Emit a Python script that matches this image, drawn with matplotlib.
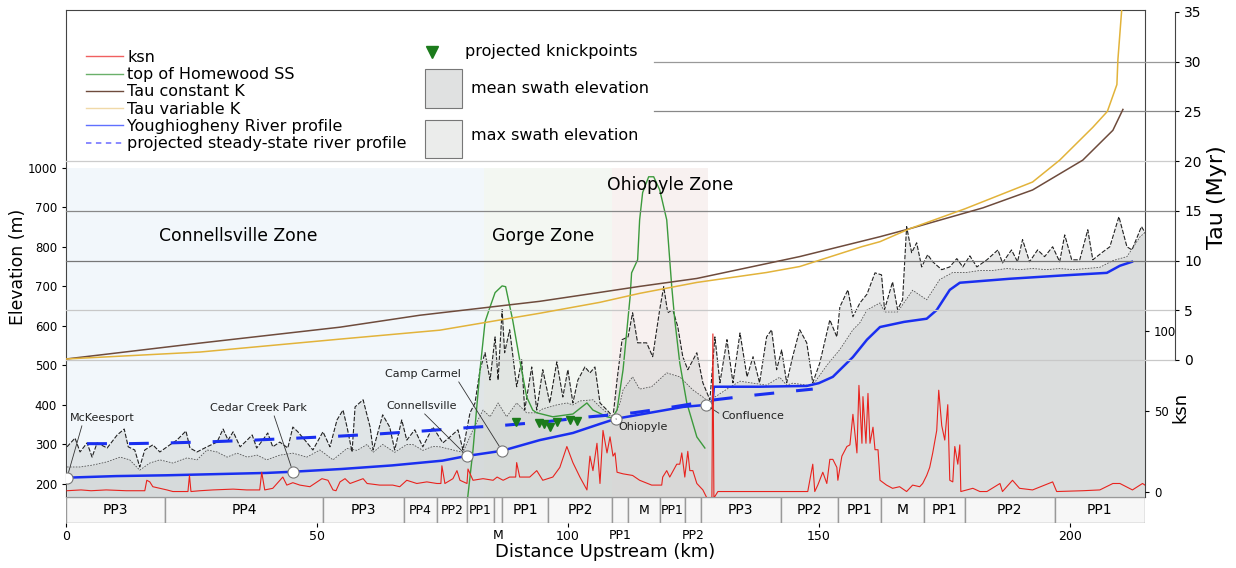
#!/usr/bin/env python3
# -*- coding: utf-8 -*-
# plot.py - perfil del rio Youghiogheny con swath, ksn y tau

import numpy as np
import matplotlib
matplotlib.use('Agg')
from matplotlib import pyplot as plt
from matplotlib.patches import Rectangle
from matplotlib.lines import Line2D

###############################################################################
# datos

# perfil del rio
river_km = [0.2, 10, 20, 30, 40, 45.2, 55, 65, 75, 79.9, 86.9, 94.4, 101.0, 106.4,
            109.6, 116.3, 123.0, 127.5, 128.8, 129.1, 138, 147.6, 150, 152.8, 156.8,
            159.6, 162.2, 167, 171.5, 173.5, 176.1, 178.1, 188, 198, 207.4, 210, 212.4]
river_elev = [216, 220, 222, 225, 228, 231, 238, 247, 259, 271, 284, 311, 329, 352,
              365, 380, 395, 400, 402, 446, 446, 448, 455, 471, 521,
              565, 597, 610, 618, 640, 691, 709, 719, 727, 734, 752, 762]

# perfil proyectado en estado estacionario
proj_km = [4.2, 12.4, 20.9, 29.3, 37.5, 46.0, 54.4, 62.7, 71.1, 79.5, 87.8, 96.0,
           104.4, 108.0, 113.0, 118.0, 123.0, 129.3, 137.3, 145.7, 148.8]
proj_elev = [302, 302, 304, 307, 311, 316, 321, 327, 334, 342, 349, 358,
             370, 374, 380, 389, 399, 413, 425, 436, 440]

# max swath
max_km = [0.2, 1.8, 2.8, 4.2, 5.2, 6.2, 8.2, 10.2, 11.6, 12.4, 13.7, 14.7, 15.7, 17.3,
          18.7, 20.7, 22.1, 23.9, 24.7, 26.1, 28.1, 30.1, 31.3, 32.3, 33.3, 34.7, 36.1,
          37.1, 38.0, 39.2, 40.2, 41.2, 42.6, 44.2, 45.2, 46.2, 47.6, 49.2, 51.2, 52.6,
          54.0, 55.2, 56.0, 57.0, 57.6, 59.2, 60.6, 61.2, 63.1, 64.5, 65.5, 66.9, 67.9,
          69.5, 71.1, 73.1, 75.1, 76.5, 78.1, 79.1, 80.5, 81.5, 82.5, 83.5, 84.5, 85.5,
          86.1, 86.9, 87.4, 88.4, 89.8, 90.8, 91.4, 92.8, 93.8, 95.0, 96.4, 97.8, 99.0,
          100.0, 101.0, 102.0, 103.4, 104.4, 105.4, 106.4, 107.8, 109.0, 109.8, 110.8,
          112.0, 112.9, 113.9, 115.7, 116.9, 118.3, 119.1, 119.9, 120.9, 121.9, 122.9,
          123.9, 125.7, 126.9, 128.3, 129.3, 130.3, 131.7, 132.9, 134.3, 135.7, 136.9,
          138.2, 139.6, 140.6, 141.6, 142.6, 143.6, 144.8, 146.2, 147.6, 148.8, 150.2,
          152.2, 153.6, 154.2, 155.8, 156.8, 158.2, 159.6, 161.2, 162.5, 163.1, 164.7,
          165.7, 166.7, 167.5, 168.5, 169.5, 170.5, 171.7, 172.7, 174.5, 176.1, 177.5,
          178.7, 180.1, 181.5, 183.5, 185.7, 186.6, 188.4, 189.6, 190.6, 192.0, 193.6,
          195.0, 196.6, 198.0, 199.0, 200.4, 202.0, 203.6, 204.6, 206.4, 208.0, 209.8,
          211.4, 212.4, 214.3, 215.0]
max_elev = [294, 316, 281, 304, 268, 304, 291, 324, 339, 294, 286, 243, 286, 299,
            281, 299, 311, 334, 291, 281, 294, 306, 339, 311, 332, 294, 311,
            324, 291, 311, 329, 294, 306, 291, 344, 332, 311, 286, 332, 294,
            362, 387, 344, 281, 395, 413, 344, 286, 375, 344, 286, 362, 311,
            337, 294, 344, 304, 319, 337, 286, 380, 405, 489, 532, 463, 572,
            463, 641, 532, 590, 446, 514, 387, 496, 387, 489, 405, 509, 420,
            489, 405, 463, 496, 481, 496, 405, 387, 370, 463, 565,
            572, 633, 557, 557, 522, 641, 699, 633, 641, 598, 522,
            489, 532, 456, 413, 572, 456, 565, 456, 582, 471, 522,
            456, 572, 590, 489, 539, 456, 522, 590, 557, 456, 506,
            615, 572, 648, 691, 623, 658, 680, 734, 729, 641, 711,
            641, 666, 851, 785, 810, 749, 780, 762, 742, 749, 770,
            749, 777, 749, 767, 792, 759, 792, 762, 818, 762, 792,
            775, 800, 762, 830, 767, 767, 843, 767, 785, 800, 876,
            800, 792, 851, 836]

# mean swath
mean_km = [0.2, 2.8, 5.4, 8.2, 10.8, 12.7, 14.7, 16.7, 18.7, 21.3, 24.1, 26.1, 28.1,
           30.1, 32.1, 34.1, 36.1, 38.1, 40.0, 42.6, 45.2, 48.0, 50.6, 53.2, 56.0,
           58.0, 60.0, 61.2, 63.1, 65.5, 67.9, 69.1, 71.1, 73.1, 74.5, 77.1, 79.1,
           81.1, 83.1, 84.5, 86.1, 87.8, 89.8, 91.8, 93.8, 95.0, 96.4, 97.8, 99.8,
           101.0, 102.4, 105.0, 106.4, 107.8, 109.0, 110.4, 111.0, 112.9, 114.3,
           116.7, 119.7, 122.3, 124.9, 126.9, 128.3, 129.3, 131.7, 134.3, 136.9,
           139.6, 142.2, 143.6, 144.8, 147.6, 148.8, 151.6, 154.2, 156.8, 158.2,
           159.6, 162.2, 163.1, 165.7, 168.7, 171.5, 174.1, 176.7, 179.5, 182.1,
           184.7, 187.5, 190.0, 192.6, 195.4, 198.0, 200.6, 203.4, 206.0, 208.6,
           211.4, 214.0, 215.0]
mean_elev = [243, 243, 248, 256, 268, 261, 235, 253, 261, 253, 266, 261, 286,
             281, 268, 278, 268, 273, 261, 273, 278, 268, 286, 261, 290,
             285, 300, 280, 300, 280, 300, 300, 285, 295, 294, 286, 280,
             337, 387, 370, 405, 370, 405, 380, 380, 390, 395, 400, 405,
             400, 410, 413, 395, 380, 365, 405, 438, 471, 440,
             446, 481, 471, 438, 420, 405, 420, 440, 460, 455,
             450, 470, 450, 455, 450, 450, 500, 540, 590, 608,
             640, 658, 635, 635, 690, 666, 717, 735, 735, 740,
             740, 745, 742, 745, 742, 745, 742, 745, 748, 765,
             775, 825, 836]

# tope de la arenisca Homewood
green_km = [79.9, 81.1, 82.5, 83.5, 84.5, 85.5, 86.9, 87.6, 89.0, 90.4, 91.8, 93.0,
            93.8, 97.0, 101.0, 103.8, 105.0, 107.8, 108.8, 109.8, 111.0, 112.4, 112.7,
            113.9, 114.3, 114.9, 116.1, 117.1, 118.3, 119.7, 120.7, 121.3, 122.3,
            123.7, 125.7, 127.3]
green_elev = [150, 286, 489, 610, 648, 684, 701, 699, 615, 514, 420, 387,
              380, 370, 377, 405, 387, 370, 367, 387, 489, 673, 734,
              767, 868, 937, 977, 977, 944, 868, 699, 615, 506,
              405, 319, 291]

# knickpoints proyectados
kp_km = [89.6, 94.2, 95.2, 96.4, 97.8, 100.4, 101.8]
kp_elev = [357, 354, 352, 344, 357, 362, 360]

# tau (Myr)
tau_const_km = [0, 26.7, 54.6, 70.5, 94.4, 106.4, 114.3, 125.7, 146.2, 162.2, 168.1,
                182.7, 192.6, 202.6, 208.6, 210.6]
tau_const = [0.1, 1.7, 3.3, 4.5, 5.9, 6.8, 7.4, 8.2, 10.4, 12.4, 13.2,
             15.3, 17.1, 20.1, 23.1, 25.2]
tau_var_km = [0, 26.7, 54.6, 74.5, 94.4, 106.4, 114.3, 125.7, 139.6, 146.2, 158.6,
              162.2, 168.1, 179.1, 192.6, 198.0, 204.6, 207.5, 209.4, 209.6, 210.4]
tau_var = [0.1, 0.8, 2.1, 3.0, 4.7, 5.8, 6.7, 7.8, 8.8, 9.4, 11.4,
           11.9, 13.2, 15.2, 17.9, 20.1, 23.4, 25.0, 27.7, 30.2, 35.5]

# ksn
ksn_km = [0.2, 3, 5, 8, 12, 15.7, 16.1, 16.7, 17.3, 18.7, 20.1, 21.3, 24.3, 24.6, 24.9,
          26.7, 29.3, 33.3, 36, 38.6, 39.0, 39.6, 41.2, 43.2, 44.0, 45.2, 46.6, 48.6,
          51.0, 52.2, 53.2, 53.8, 54.6, 55.6, 56.6, 59.2, 60.0, 62.5, 65.1, 66.5, 67.9,
          69.9, 71.9, 73.9, 74.7, 74.9, 75.5, 77.1, 77.9, 78.5, 79.9, 80.1, 81.1, 83.1,
          85.1, 85.9, 87.1, 88.4, 89.6, 89.8, 90.4, 92.4, 93.8, 95.0, 97.0, 98.4, 99.8,
          101.0, 102.4, 103.8, 104.4, 105.0, 105.8, 106.4, 107.0, 107.8, 108.4, 109.0,
          109.4, 109.8, 111.0, 112.9, 114.3, 116.7, 118.7, 118.9, 119.7, 120.3, 121.7,
          122.3, 122.7, 123.3, 123.9, 124.3, 124.9, 125.7, 126.9, 127.7, 128.7, 128.9,
          129.1, 129.9, 147.8, 148.8, 149.2, 149.8, 150.8, 151.6, 152.2, 152.8, 153.6,
          153.8, 154.6, 155.6, 156.2, 156.8, 157.6, 158.0, 158.6, 158.8, 159.4, 159.8,
          160.2, 160.8, 161.2, 161.8, 162.2, 163.5, 164.7, 166.1, 167.5, 168.7, 170.1,
          170.7, 171.5, 172.1, 172.7, 173.5, 173.9, 174.5, 175.1, 175.7, 176.1, 176.7,
          177.1, 177.7, 178.1, 178.3, 180.7, 182.1, 183.5, 186.1, 186.6, 188.6, 190.0,
          192.6, 196.6, 197.4, 202.6, 206.0, 208.6, 210.0, 212.5, 214.5, 215.0]
ksn = [0.5, 1, 0.5, 1, 0.5, 0.5, 7, 6, 3, 2, 1, 0, 0, 10, 0,
       0.5, 1, 1.5, 1, 1, 12, 1, 2, 9, 4, 5.5, 4, 3,
       8, 7, 1, 0.5, 6, 8, 5, 8, 5, 4, 4, 3, 7,
       5, 6, 5, 5, 16, 5, 8, 13, 7, 5, 14, 7, 8,
       7, 9, 7, 9, 9, 18, 9, 9, 13, 7, 9, 15, 28,
       18, 9, 1, 22, 13, 30, 5, 38, 24, 34, 22,
       24, 12, 11, 10, 7, 4, 4, 9, 13, 9, 17,
       17, 24, 9, 25, 13, 13, 5, 1, -4, -4, 98,
       -4, 0, 0, 17, 0, 4, 12, 5, 20, 20, 15,
       7, 22, 28, 29, 48, 24, 66, 30, 59, 30, 61,
       30, 40, 26, 26, 7, 4, 2, 3, 0, 4, 3,
       5, 10, 15, 24, 38, 63, 41, 32, 54, 7, 6,
       28, 17, 29, 0, 2, 0, 0, 5, 0, 7, 2,
       1, 6, 0, 0.5, 1, 5, 5, 1, 5, 4]

# sitios sobre el rio
sites = ['McKeesport', 'Cedar Creek Park', 'Connellsville', 'Camp Carmel',
         'Ohiopyle', 'Confluence']
site_km = [0.2, 45.2, 79.9, 86.9, 109.6, 127.5]
site_elev = [216, 231, 271, 284, 365, 400]

# zonas
zones = ['Connellsville Zone', 'Gorge Zone', 'Ohiopyle Zone']
zone_start = [0, 83.3, 108.8]
zone_end = [83.3, 108.8, 127.9]

# unidades geologicas
geo_units = ['PP3', 'PP4', 'PP3', 'PP4', 'PP2', 'PP1', 'M', 'PP1', 'PP2', 'PP1', 'M',
             'PP1', 'PP2', 'PP3', 'PP2', 'PP1', 'M', 'PP1', 'PP2', 'PP1']
geo_start = [0, 19.7, 51.2, 67.3, 73.9, 79.9, 85.3, 86.9, 96.0, 108.8, 111.9,
             118.3, 123.3, 126.5, 142.4, 153.8, 162.4, 171.0, 179.1, 197.0]
geo_end = geo_start[1:] + [215.0]

elev_ticks = [200, 300, 400, 500, 600, 700, 800, 900, 1000]
elev_labels = ['200', '300', '400', '500', '600', '700', '800', '700', '1000']

###############################################################################

ELO, EHI = 167.1, 1398.8

fig = plt.figure(figsize=(12.36, 5.68), dpi=100)
ax = fig.add_axes([66/1236, 1 - 497/568, 1079/1236, 487/568])
geo = fig.add_axes([66/1236, 1 - 523/568, 1079/1236, 26/568])

ax.set_xlim(0, 215)
ax.set_ylim(ELO, EHI)

# zonas sombreadas
zone_colors = ['#f2f7fb', '#f3f7f2', '#f8f1f0']
top_frac = (1000 - ELO) / (EHI - ELO)
for x0, x1, c in zip(zone_start, zone_end, zone_colors):
  ax.axvspan(x0, x1, ymin=0, ymax=top_frac, color=c, lw=0, zorder=0)

# swath
ax.fill_between(max_km, ELO, max_elev, color='#c6caca', alpha=0.4, lw=0, zorder=1)
ax.fill_between(mean_km, ELO, mean_elev, color='#c6caca', alpha=0.38, lw=0, zorder=1)
ax.plot(max_km, max_elev, color='#222222', lw=0.8, ls=(0, (4, 1.5)), zorder=2)
ax.plot(mean_km, mean_elev, color='#555555', lw=0.6, ls=(0, (2, 1.5)), zorder=2)

ax.plot(green_km, green_elev, color='#3c9a3c', lw=1.0, zorder=3)
ax.plot(river_km, river_elev, color='#1a2ff0', lw=1.8, zorder=4)
ax.plot(proj_km, proj_elev, color='#1a2ff0', lw=2.2, ls=(0, (6.5, 7.2)), zorder=4)
ax.plot(kp_km, kp_elev, 'v', color='#1b7b1b', ms=6, zorder=5)
ax.plot(site_km, site_elev, 'o', mfc='white', mec='#777777', mew=0.8, ms=8,
        ls='none', zorder=6)

# etiquetas de sitios
text_pos = [(7.2, 367), (38.4, 392), (70.9, 397), (71.1, 478), (114.9, 344), (136.9, 372)]
relpos = [(0.2, 0), (0.65, 0), (0.5, 0), (0.95, 0), (0.0, 0.7), (0.0, 0.6)]
for s, xk, ye, tp, rp in zip(sites, site_km, site_elev, text_pos, relpos):
  ax.annotate(s, xy=(xk, ye), xytext=tp, ha='center', va='center', fontsize=8,
              color='#222222', zorder=7,
              arrowprops=dict(arrowstyle='-', color='#333333', lw=0.6,
                              shrinkA=0, shrinkB=4, relpos=rp))

# nombres de zonas
ax.text(34.3, 828, zones[0], ha='center', va='center', fontsize=12.4)
ax.text(95.0, 828, zones[1], ha='center', va='center', fontsize=12.4)
ax.text(120.3, 955, zones[2], ha='center', va='center', fontsize=12.4)

ax.set_yticks(elev_ticks)
ax.set_yticklabels(elev_labels)
ax.set_xticks([])
ax.tick_params(axis='y', labelsize=8.5, length=3)
ax.set_ylabel('Elevation (m)', fontsize=12.4)
ax.yaxis.set_label_coords(-0.0366, 0.472)
for sp in ax.spines.values():
  sp.set_color('#444444')

# leyenda izquierda
handles = [
  Line2D([], [], color='#f06060', lw=1),
  Line2D([], [], color='#6ab06a', lw=1),
  Line2D([], [], color='#6e4b3c', lw=1),
  Line2D([], [], color='#f0d9a8', lw=1),
  Line2D([], [], color='#6070ff', lw=1),
  Line2D([], [], color='#8080ff', lw=1.3, ls=(0, (3, 2.5))),
]
labels = ['ksn', 'top of Homewood SS', 'Tau constant K', 'Tau variable K',
          'Youghiogheny River profile', 'projected steady-state river profile']
ax.legend(handles, labels, loc='upper left', bbox_to_anchor=(0.0185, 0.918),
          frameon=False, fontsize=11.5, handlelength=2.3, handletextpad=0.3,
          labelspacing=0.14, borderpad=0, borderaxespad=0)

# leyenda derecha (manual)
ax.plot([0.3392], [0.914], 'v', transform=ax.transAxes, color='#1b7b1b', ms=8,
        clip_on=False)
ax.text(0.3698, 0.914, 'projected knickpoints', transform=ax.transAxes,
        va='center', fontsize=11.5)
ax.add_patch(Rectangle((0.3327, 0.7988), 0.0343, 0.0801, transform=ax.transAxes,
                       fc='#e0e1e1', ec='#777777', lw=0.8))
ax.add_patch(Rectangle((0.3327, 0.6961), 0.0343, 0.078, transform=ax.transAxes,
                       fc='#ebeceb', ec='#777777', lw=0.8))
ax.text(0.3753, 0.8398, 'mean swath elevation', transform=ax.transAxes,
        va='center', fontsize=11.5)
ax.text(0.3753, 0.7413, 'max swath elevation', transform=ax.transAxes,
        va='center', fontsize=11.5)

# eje tau
tx = ax.twinx()
tx.set_ylim(-13.78, 35.2)
for side in ['left', 'top', 'bottom']:
  tx.spines[side].set_visible(False)
tx.spines['right'].set_position(('outward', 21.6))
tx.spines['right'].set_bounds(0, 35)
tx.spines['right'].set_color('#444444')
tx.set_yticks(range(0, 36, 5))
tx.tick_params(axis='y', labelsize=10, length=3)
grid_style = {0: ('#c8c8c8', 0.0), 5: ('#c8c8c8', 0.0), 10: ('#777777', 0.0),
              15: ('#888888', 0.0), 20: ('#cccccc', 0.0), 25: ('#888888', 0.545),
              30: ('#999999', 0.545)}
for t, (c, x0) in grid_style.items():
  tx.axhline(t, xmin=x0, xmax=1.0278, color=c, lw=0.9, clip_on=False, zorder=1)
tx.plot(tau_const_km, tau_const, color='#6e4b3c', lw=1.1, zorder=3)
tx.plot(tau_var_km, tau_var, color='#e2b33a', lw=1.1, zorder=3)
tx.set_ylabel('Tau (Myr)', fontsize=16)
tx.yaxis.set_label_coords(1.0576, 0.616)

# eje ksn
kx = ax.twinx()
kx.set_ylim(-3.4, 299.4)
for sp in kx.spines.values():
  sp.set_visible(False)
kx.set_yticks([0, 50, 100])
kx.tick_params(axis='y', labelsize=8.5, length=3)
kx.plot(ksn_km, ksn, color='#e8231e', lw=0.8, zorder=3)
kx.set_ylabel('ksn', fontsize=13)
kx.yaxis.set_label_coords(1.0246, 0.183)

# unidades geologicas
geo.set_xlim(0, 215)
geo.set_ylim(0, 1)
for s, e, u in zip(geo_start, geo_end, geo_units):
  geo.add_patch(Rectangle((s, 0), e - s, 1, fc='#f7f7f7', ec='#999999', lw=1))
  w = e - s
  if w > 4:
    geo.text((s + e) / 2, 0.5, u, ha='center', va='center',
             fontsize=10 if w > 8 else 9)
  else:
    geo.text((s + e) / 2, -0.22, u, ha='center', va='top', fontsize=9)
for sp in geo.spines.values():
  sp.set_visible(False)
geo.set_yticks([])
geo.set_xticks([0, 50, 100, 150, 200])
geo.tick_params(axis='x', labelsize=9, length=3, pad=2)
geo.set_xlabel('Distance Upstream (km)', fontsize=13, labelpad=0)

fig.savefig('out.png', dpi=100)
